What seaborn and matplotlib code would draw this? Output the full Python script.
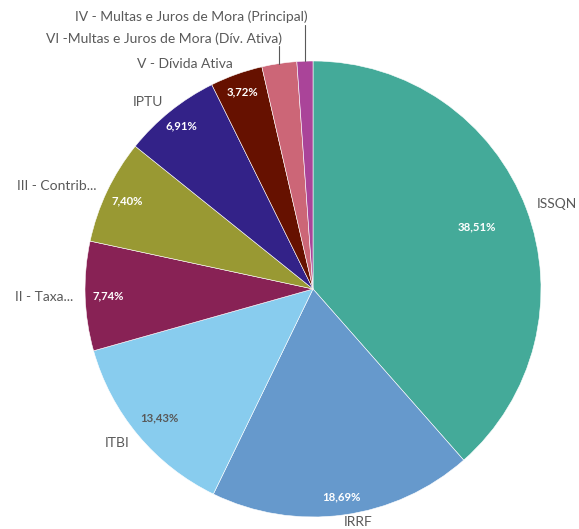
import numpy as np
import matplotlib
matplotlib.use("Agg")
import matplotlib.pyplot as plt
import seaborn as sns

# data
categories = ["ISSQN", "IRRF", "ITBI", "II - Taxa...", "III - Contrib...", "IPTU",
              "V - Dívida Ativa", "VI -Multas e Juros de Mora (Dív. Ativa)",
              "IV - Multas e Juros de Mora (Principal)"]
shares = [38.51, 18.69, 13.43, 7.74, 7.40, 6.91, 3.72, 2.47, 1.13]
colors = ["#44AA99", "#6699CC", "#88CCEE", "#882255", "#999933", "#332288",
          "#661100", "#CC6677", "#AA4499"]

sns.set_theme(style="white")
plt.rcParams['font.family'] = ['Lato', 'DejaVu Sans']

fig = plt.figure(figsize=(5.79, 5.29), dpi=100)
ax = fig.add_axes([0.1468, 0.0227, 0.7876, 0.862])

wedges, _ = ax.pie(shares, colors=colors, startangle=90, counterclock=False,
                   radius=1, wedgeprops=dict(edgecolor="white", linewidth=0.4))
ax.set_xlim(-1, 1)
ax.set_ylim(-1, 1)
ax.set_aspect("equal")
ax.axis("off")

# percent labels inside
pct_dist = [0.77, 0.92, 0.88, 0.9, 0.9, 0.92, 0.92]
pct_color = ["white", "white", "#595959", "white", "white", "white", "white"]
grey = "#595959"
for i, w in enumerate(wedges):
    mid = np.deg2rad((w.theta1 + w.theta2) / 2)
    dx, dy = np.cos(mid), np.sin(mid)
    if i < len(pct_dist):
        r = pct_dist[i]
        txt = f"{shares[i]:.2f}%".replace(".", ",")
        ax.text(dx * r, dy * r, txt, ha="center", va="center", fontsize=8.2,
                fontweight="bold", color=pct_color[i])
        # category labels outside
        ha = "left" if dx > 0 else "right"
        if dy < -0.9:
            ax.text(dx * 1.0, dy * 1.0 - 0.005, categories[i], ha=ha, va="top",
                    fontsize=10, color=grey)
        else:
            ax.text(dx * 1.05, dy * 1.05, categories[i], ha=ha, va="center",
                    fontsize=10, color=grey)
    else:
        # small slices: vertical leader lines up to stacked labels
        top = 1.065 if i == 7 else 1.16
        x0, y0 = dx * 1.0, dy * 1.0
        ax.plot([x0, x0], [y0, top], color=grey, lw=0.8, clip_on=False)
        ax.text(x0 + 0.01, top + 0.005, categories[i], ha="right", va="bottom",
                fontsize=10, color=grey)

plt.savefig("out.png", dpi=100)
